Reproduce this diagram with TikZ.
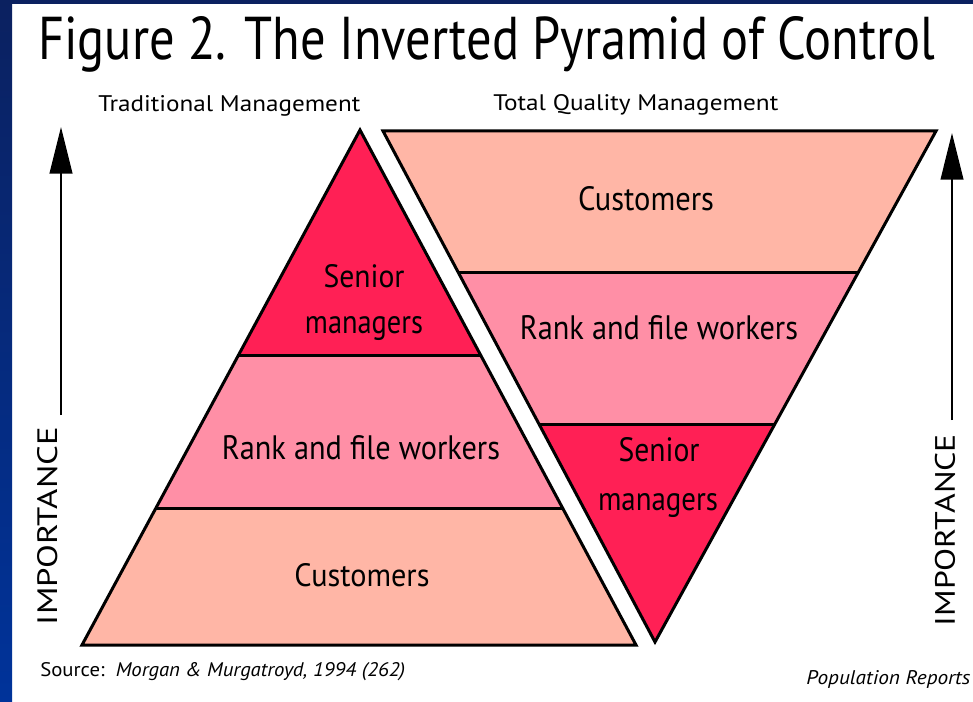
\documentclass[tikz,border=0pt]{standalone}
\usepackage{fontspec}
\setmainfont{PT Sans}
\usetikzlibrary{arrows.meta,calc}
% one unit = one pixel of the 973 x 702 canvas
\newlength\pxu \setlength\pxu{0.75pt}
\newcommand\fitt[3]{\resizebox{#1\pxu}{#2\pxu}{#3}}
\definecolor{custc}{RGB}{255,182,166}
\definecolor{rankc}{RGB}{255,143,166}
\definecolor{senc}{RGB}{255,32,85}
\definecolor{navy}{RGB}{11,33,96}
\definecolor{royal}{RGB}{0,51,154}
\begin{document}
\begin{tikzpicture}[x=0.75pt,y=-0.75pt,
  edge/.style={draw=black,line width=2.25pt},
  divider/.style={black,line width=2.25pt},
  lbl/.style={inner sep=0pt,anchor=base},
  lblw/.style={inner sep=0pt,anchor=base west},
  imparrow/.style={black,line width=1.5pt,-{Triangle[length=35pt,width=17pt]}},
  vert/.style={inner sep=0pt,rotate=90}]
\useasboundingbox (0,0) rectangle (973,702);
\fill[white] (0,0) rectangle (973,702);
% frame bands
\shade[top color=navy,bottom color=royal] (0,0) rectangle (12,702);
\fill[navy] (0,0) rectangle (973,4);

% title and column headings
\node[lblw] (title) at (38,60) {\fitt{897}{43}{Figure 2. The Inverted Pyramid of Control}};
\node[lblw] (headL) at (98,112) {\fitt{262}{16}{Traditional Management}};
\node[lblw] (headR) at (493,111) {\fitt{285}{16}{Total Quality Management}};

% traditional pyramid
\coordinate (A) at (360,130);
\coordinate (BL) at (82,645);
\coordinate (BR) at (636,645);
\coordinate (L1) at ($(A)!0.4369!(BL)$);
\coordinate (R1) at ($(A)!0.4369!(BR)$);
\coordinate (L2) at ($(A)!0.734!(BL)$);
\coordinate (R2) at ($(A)!0.734!(BR)$);
\fill[senc] (A) -- (R1) -- (L1) -- cycle;
\fill[rankc] (L1) -- (R1) -- (R2) -- (L2) -- cycle;
\fill[custc] (L2) -- (R2) -- (BR) -- (BL) -- cycle;
\draw[divider] (L1) -- (R1);
\draw[divider] (L2) -- (R2);
\draw[edge] (A) -- (BR) -- (BL) -- cycle;

% inverted pyramid
\coordinate (TL) at (383,131);
\coordinate (TR) at (936,131);
\coordinate (V) at (655,642);
\coordinate (P1) at ($(TL)!0.276!(V)$);
\coordinate (Q1) at ($(TR)!0.276!(V)$);
\coordinate (P2) at ($(TL)!0.575!(V)$);
\coordinate (Q2) at ($(TR)!0.575!(V)$);
\fill[custc] (TL) -- (TR) -- (Q1) -- (P1) -- cycle;
\fill[rankc] (P1) -- (Q1) -- (Q2) -- (P2) -- cycle;
\fill[senc] (P2) -- (Q2) -- (V) -- cycle;
\draw[divider] (P1) -- (Q1);
\draw[divider] (P2) -- (Q2);
\draw[edge] (TL) -- (TR) -- (V) -- cycle;

% tier labels, traditional
\node[lbl] (senL1) at (364,287) {\fitt{81}{23}{Senior}};
\node[lbl] (senL2) at (364,333) {\fitt{118}{17}{managers}};
\node[lbl] (rankL) at (361,459) {\fitt{278}{24}{Rank and file workers}};
\node[lbl] (custL) at (362,586) {\fitt{135}{23}{Customers}};

% tier labels, inverted
\node[lbl] (custR) at (646,211) {\fitt{136}{24}{Customers}};
\node[lbl] (rankR) at (659,339) {\fitt{278}{24}{Rank and file workers}};
\node[lbl] (senR1) at (659,461) {\fitt{81}{24}{Senior}};
\node[lbl] (senR2) at (658,510) {\fitt{120}{17}{managers}};

% importance axes
\node[vert] (impL) at (48,526) {\fitt{198}{20}{IMPORTANCE}};
\node[vert] (impR) at (945,530) {\fitt{192}{20}{IMPORTANCE}};
\coordinate (lb) at (61,415);
\coordinate (lt) at (61,127);
\coordinate (rb) at (952,420);
\coordinate (rt) at (952,133);
\draw[imparrow] (lb) -- (lt);
\draw[imparrow] (rb) -- (rt);

% credits
\node[lblw] (src) at (40,676) {\fitt{365}{14}{Source:\ \ \textit{Morgan \& Murgatroyd, 1994 (262)}}};
\node[lblw] (pop) at (806,684) {\fitt{164}{14}{\textit{Population Reports}}};
\end{tikzpicture}
\end{document}
